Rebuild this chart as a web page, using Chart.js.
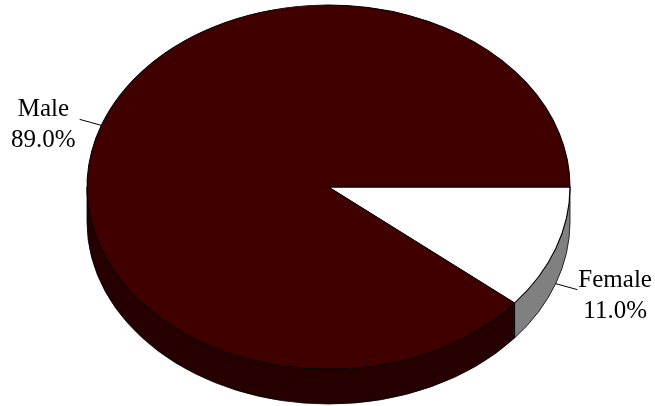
<!DOCTYPE html>
<html>
<head>
<meta charset="utf-8">
<script src="https://cdn.jsdelivr.net/npm/chart.js@4"></script>
<style>
  html, body { margin: 0; padding: 0; background: #fff; }
  #wrap { width: 655px; height: 406px; position: relative; }
</style>
</head>
<body>
<div id="wrap"><canvas id="genderChart"></canvas></div>
<script>
const labels = ['Female', 'Male'];
const shares = [11.0, 89.0];
const topColors = ['#ffffff', '#400000'];
const sideColors = ['#808080', '#260000'];

const depth = 35;
const labelFont = '25px "Liberation Serif", "Times New Roman", serif';

// squash the flat pie into an ellipse filling the chart area and give it a rim
const tiltPlugin = {
    id: 'tilt',
    beforeDatasetsDraw(chart) {
        const ctx = chart.ctx;
        const area = chart.chartArea;
        const arcs = chart.getDatasetMeta(0).data;
        const cx = arcs[0].x, cy = arcs[0].y, r = arcs[0].outerRadius;
        const rx = area.width / 2, ry = area.height / 2;
        chart.$tilt = { cx, cy, rx, ry };

        // side walls, only the front half shows
        arcs.forEach((arc, i) => {
            const s = Math.max(arc.startAngle, 0);
            const e = Math.min(arc.endAngle, Math.PI);
            if (s >= e) return;
            ctx.beginPath();
            ctx.ellipse(cx, cy, rx, ry, 0, s, e);
            ctx.ellipse(cx, cy + depth, rx, ry, 0, e, s, true);
            ctx.closePath();
            ctx.fillStyle = sideColors[i];
            ctx.fill();
            ctx.lineWidth = 0.8;
            ctx.strokeStyle = '#000';
            ctx.stroke();
        });

        ctx.save();
        ctx.translate(cx, cy);
        ctx.scale(rx / r, ry / r);
        ctx.translate(-cx, -cy);
    },
    afterDatasetsDraw(chart) {
        chart.ctx.restore();
    },
    afterDraw(chart) {
        const ctx = chart.ctx;
        const { cx, cy, rx, ry } = chart.$tilt;
        const arcs = chart.getDatasetMeta(0).data;
        ctx.save();
        ctx.font = labelFont;
        ctx.fillStyle = '#000';
        ctx.strokeStyle = '#000';
        ctx.lineWidth = 1;
        arcs.forEach((arc, i) => {
            const mid = (arc.startAngle + arc.endAngle) / 2;
            const c = Math.cos(mid), s = Math.sin(mid);
            // front slices point at the bottom of the rim
            const x0 = cx + rx * c;
            const y0 = cy + ry * s + (s > 0 ? depth : 0);
            const x1 = x0 + c * 23;
            const y1 = y0 + Math.sign(s) * 6;
            ctx.beginPath();
            ctx.moveTo(x0, y0);
            ctx.lineTo(x1, y1);
            ctx.stroke();

            const lines = [labels[i], shares[i].toFixed(1) + '%'];
            const w = Math.max(...lines.map(t => ctx.measureText(t).width));
            const mx = c < 0 ? x1 - 4 - w / 2 : x1 + 1 + w / 2;
            ctx.textAlign = 'center';
            ctx.textBaseline = 'alphabetic';
            ctx.fillText(lines[0], mx, y1 - 3);
            ctx.fillText(lines[1], mx, y1 + 28);
        });
        ctx.restore();
    }
};

new Chart(document.getElementById('genderChart'), {
    type: 'pie',
    data: {
        labels: labels,
        datasets: [{
            data: shares,
            backgroundColor: topColors,
            borderColor: '#000',
            borderWidth: 0.8,
            clip: false
        }]
    },
    options: {
        responsive: true,
        maintainAspectRatio: false,
        animation: false,
        rotation: 90,
        layout: { padding: { top: 5, bottom: 37, left: 87, right: 85 } },
        plugins: {
            legend: { display: false },
            tooltip: { enabled: false }
        }
    },
    plugins: [tiltPlugin]
});
</script>
</body>
</html>
